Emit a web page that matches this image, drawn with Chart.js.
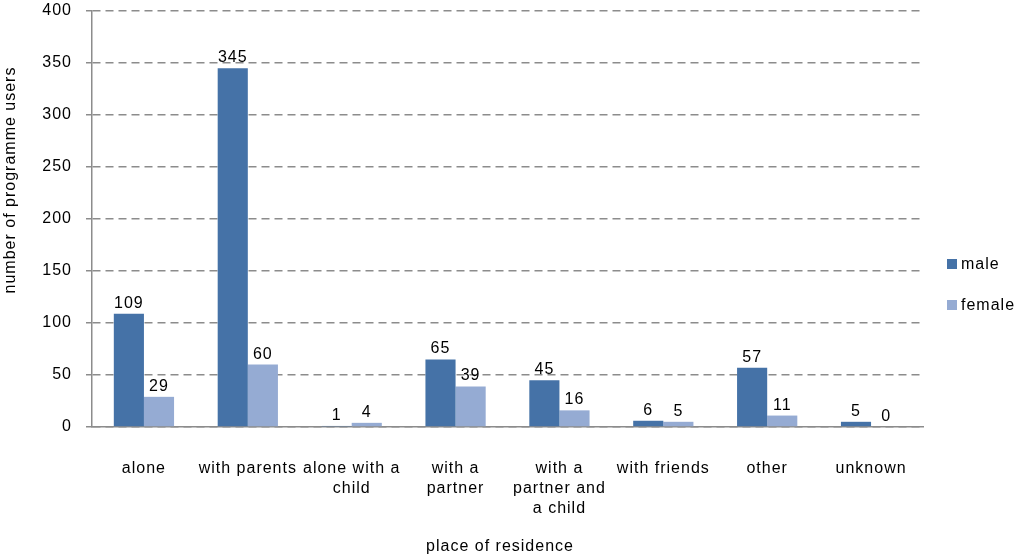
<!DOCTYPE html>
<html>
<head>
<meta charset="utf-8">
<script src="https://cdn.jsdelivr.net/npm/chart.js@4/dist/chart.umd.min.js"></script>
<style>
  html, body { margin: 0; padding: 0; background: #fff; }
  #wrap { width: 1017px; height: 554px; }
</style>
</head>
<body>
<div id="wrap"><canvas id="residenceChart" width="1017" height="554"></canvas></div>
<script>
const categories = [
    'alone',
    'with parents',
    ['alone with a', 'child'],
    ['with a', 'partner'],
    ['with a', 'partner and', 'a child'],
    'with friends',
    'other',
    'unknown'
];
const maleUsers = [109, 345, 1, 65, 45, 6, 57, 5];
const femaleUsers = [29, 60, 4, 39, 16, 5, 11, 0];
const yTicks = [0, 50, 100, 150, 200, 250, 300, 350, 400];

const FONT = 'Arial, "Liberation Sans", sans-serif';
const TEXT = '#000';
const SPACING = '1px';

// slightly wider text spacing for every label the chart draws
const wideText = {
    id: 'wideText',
    beforeInit(chart) { chart.ctx.letterSpacing = SPACING; },
    beforeLayout(chart) { chart.ctx.letterSpacing = SPACING; },
    beforeDraw(chart) { chart.ctx.letterSpacing = SPACING; }
};

// value labels above bars, axis titles and the side legend
const extras = {
    id: 'extras',
    afterDatasetsDraw(chart) {
        const ctx = chart.ctx;
        ctx.save();
        ctx.letterSpacing = SPACING;
        ctx.fillStyle = TEXT;
        ctx.font = '16px ' + FONT;
        ctx.textAlign = 'center';
        ctx.textBaseline = 'alphabetic';
        chart.data.datasets.forEach((ds, i) => {
            chart.getDatasetMeta(i).data.forEach((bar, j) => {
                ctx.fillText(String(ds.data[j]), bar.x, bar.y - 6);
            });
        });

        // axis titles
        ctx.fillText('place of residence', 500, 551);
        ctx.save();
        ctx.translate(11, 180);
        ctx.rotate(-Math.PI / 2);
        ctx.textBaseline = 'middle';
        ctx.fillText('number of programme users', 0, 0);
        ctx.restore();

        // legend
        ctx.textAlign = 'left';
        ctx.textBaseline = 'middle';
        chart.data.datasets.forEach((ds, i) => {
            const y = 264 + i * 41;
            ctx.fillStyle = ds.backgroundColor;
            ctx.fillRect(947, y - 5, 10, 10);
            ctx.fillStyle = TEXT;
            ctx.fillText(ds.label, 961, y + 1);
        });
        ctx.restore();
    }
};

new Chart(document.getElementById('residenceChart'), {
    type: 'bar',
    data: {
        labels: categories,
        datasets: [
            {
                label: 'male',
                data: maleUsers,
                backgroundColor: 'rgb(69, 114, 167)',
                categoryPercentage: 0.58,
                barPercentage: 1.0
            },
            {
                label: 'female',
                data: femaleUsers,
                backgroundColor: 'rgb(149, 171, 211)',
                categoryPercentage: 0.58,
                barPercentage: 1.0
            }
        ]
    },
    options: {
        responsive: false,
        animation: false,
        layout: { padding: { top: 11, right: 94, left: 0, bottom: 0 } },
        plugins: {
            legend: { display: false },
            tooltip: { enabled: false }
        },
        scales: {
            x: {
                grid: { display: false },
                border: { color: '#8c8c8c', width: 1.5 },
                ticks: {
                    color: TEXT,
                    font: { family: FONT, size: 16, lineHeight: 1.25 },
                    padding: 24,
                    maxRotation: 0,
                    autoSkip: false
                },
                afterFit(scale) {
                    scale.height = 554 - 427;
                    scale.paddingLeft = 0;
                    scale.paddingRight = 0;
                }
            },
            y: {
                min: 0,
                max: 400,
                afterBuildTicks(scale) { scale.ticks = yTicks.map(v => ({ value: v })); },
                grid: {
                    color: '#8c8c8c',
                    lineWidth: 1.5,
                    tickLength: 6
                },
                border: { color: '#8c8c8c', width: 1.5, dash: [8, 5] },
                ticks: {
                    color: TEXT,
                    font: { family: FONT, size: 16 },
                    padding: 14
                },
                afterFit(scale) {
                    scale.width = 92;
                    scale.paddingTop = 0;
                    scale.paddingBottom = 0;
                }
            }
        }
    },
    plugins: [wideText, extras]
});
</script>
</body>
</html>
